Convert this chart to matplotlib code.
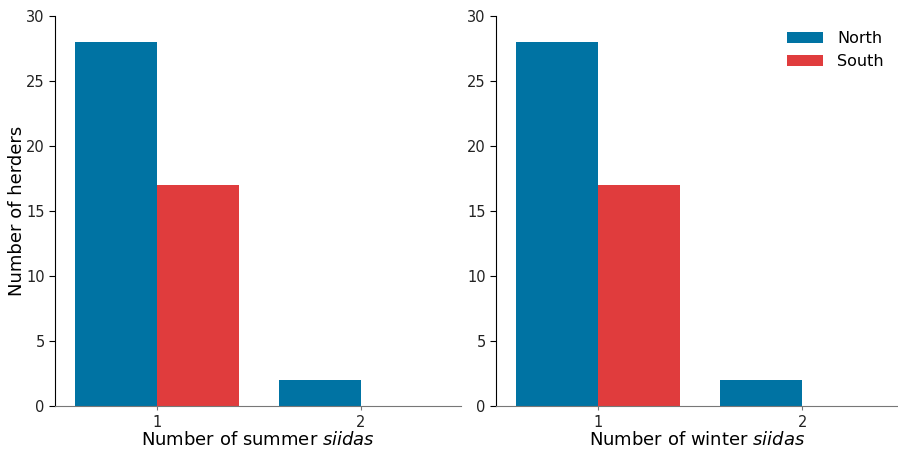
import matplotlib.pyplot as plt
import numpy as np

# --- data ---------------------------------------------------------------
siida_counts = [1, 2]
summer_north = [28, 2]
summer_south = [17, 0]
winter_north = [28, 2]
winter_south = [17, 0]

blue = "#0073A3"
red = "#E03C3D"

fig = plt.figure(figsize=(8.98, 4.49), dpi=100)
W, H = 898, 449
ax1 = fig.add_axes([55 / W, 1 - 406 / H, 406 / W, 390 / H])
ax2 = fig.add_axes([496 / W, 1 - 406 / H, 402 / W, 390 / H])

x = np.array(siida_counts, dtype=float)
w = 0.4
for ax, north, south, season in [
    (ax1, summer_north, summer_south, "summer"),
    (ax2, winter_north, winter_south, "winter"),
]:
    ax.bar(x - w / 2, north, width=w, color=blue, label="North")
    ax.bar(x + w / 2, south, width=w, color=red, label="South")
    ax.set_ylim(0, 30)
    ax.set_yticks([0, 5, 10, 15, 20, 25, 30])
    ax.set_xticks(siida_counts)
    ax.set_xlabel(f"Number of {season} $\\it{{siidas}}$", fontsize=13, labelpad=1)
    for s in ("top", "right"):
        ax.spines[s].set_visible(False)
    ax.spines["bottom"].set_color("#777777")
    ax.tick_params(axis="x", colors="#777777", labelcolor="#222222", labelsize=10.5, length=3)
    ax.tick_params(axis="y", labelsize=10.5, length=4, labelcolor="#222222")

ax1.set_xlim(0.5, 2.49)
ax2.set_xlim(0.5, 2.47)
ax1.set_ylabel("Number of herders", fontsize=13, labelpad=0)
ax2.legend(loc="upper right", frameon=False, fontsize=11.5, handlelength=2.2,
           handletextpad=0.9, bbox_to_anchor=(1.0, 0.998))

fig.savefig("out.png", dpi=100)
